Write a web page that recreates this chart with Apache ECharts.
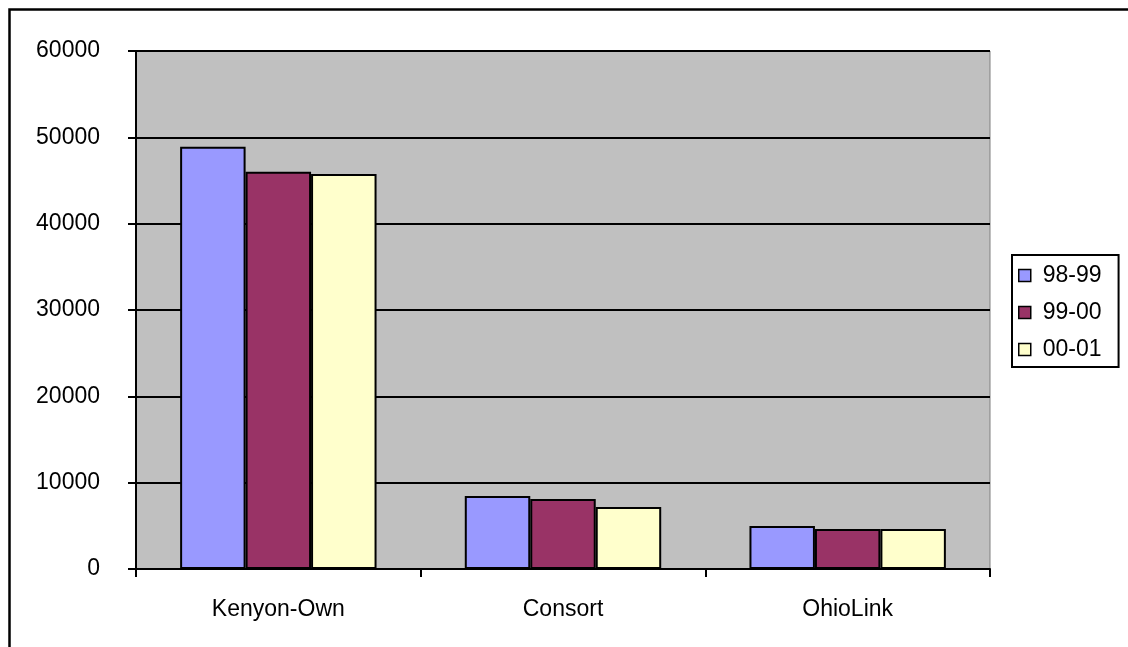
<!DOCTYPE html>
<html>
<head>
<meta charset="utf-8">
<script src="https://cdn.jsdelivr.net/npm/echarts@6/dist/echarts.min.js"></script>
<style>
html,body{margin:0;padding:0;background:#fff;}
#chart{width:1128px;height:647px;}
</style>
</head>
<body>
<div id="chart"></div>
<script>
const categories = ['Kenyon-Own', 'Consort', 'OhioLink'];
const seriesNames = ['98-99', '99-00', '00-01'];
const values9899 = [48900, 8450, 4980];
const values9900 = [46000, 8100, 4630];
const values0001 = [45750, 7180, 4630];
const yTicks = [0, 10000, 20000, 30000, 40000, 50000, 60000];
const colors = ['#9999FF', '#993366', '#FFFFCC'];

const chart = echarts.init(document.getElementById('chart'), null, {renderer: 'canvas'});
const font = 'Liberation Sans, Arial, sans-serif';
const allValues = [values9899, values9900, values0001];

chart.setOption({
  animation: false,
  backgroundColor: '#ffffff',
  graphic: [{
    type: 'rect',
    shape: {x: 9.5, y: 9.5, width: 1300, height: 800},
    style: {fill: 'none', stroke: '#000', lineWidth: 2.5},
    z: 100
  }],
  grid: {
    left: 136, top: 51, right: 138, bottom: 78,
    show: true, backgroundColor: '#C0C0C0', borderColor: '#808080', borderWidth: 1
  },
  legend: {
    orient: 'vertical',
    left: 1012, top: 255,
    padding: [9, 17, 6, 6],
    backgroundColor: '#ffffff',
    borderColor: '#000', borderWidth: 2,
    itemWidth: 12, itemHeight: 12,
    itemGap: 14,
    icon: 'rect',
    itemStyle: {borderColor: '#000', borderWidth: 1.5},
    textStyle: {fontFamily: font, fontSize: 23, color: '#000', lineHeight: 23, padding: [0, 0, 0, 7]},
    data: seriesNames
  },
  xAxis: {
    type: 'category',
    data: categories,
    axisLine: {lineStyle: {color: '#000', width: 2}},
    axisTick: {show: true, length: 8, lineStyle: {color: '#000', width: 2}},
    axisLabel: {fontFamily: font, fontSize: 23, color: '#000', margin: 29},
    splitLine: {show: false}
  },
  yAxis: {
    type: 'value',
    min: yTicks[0], max: yTicks[yTicks.length - 1], interval: 10000,
    axisLine: {show: true, lineStyle: {color: '#000', width: 2}},
    axisTick: {show: true, length: 8, lineStyle: {color: '#000', width: 2}},
    axisLabel: {fontFamily: font, fontSize: 23, color: '#000', margin: 36, padding: [4, 0, 0, 0], formatter: v => String(v)},
    splitLine: {show: true, lineStyle: {color: '#000', width: 2}}
  },
  series: seriesNames.map((name, i) => ({
    name: name,
    type: 'bar',
    data: allValues[i],
    barGap: '0%',
    barCategoryGap: '31%',
    itemStyle: {color: colors[i], borderColor: '#000', borderWidth: 2}
  }))
});
</script>
</body>
</html>
